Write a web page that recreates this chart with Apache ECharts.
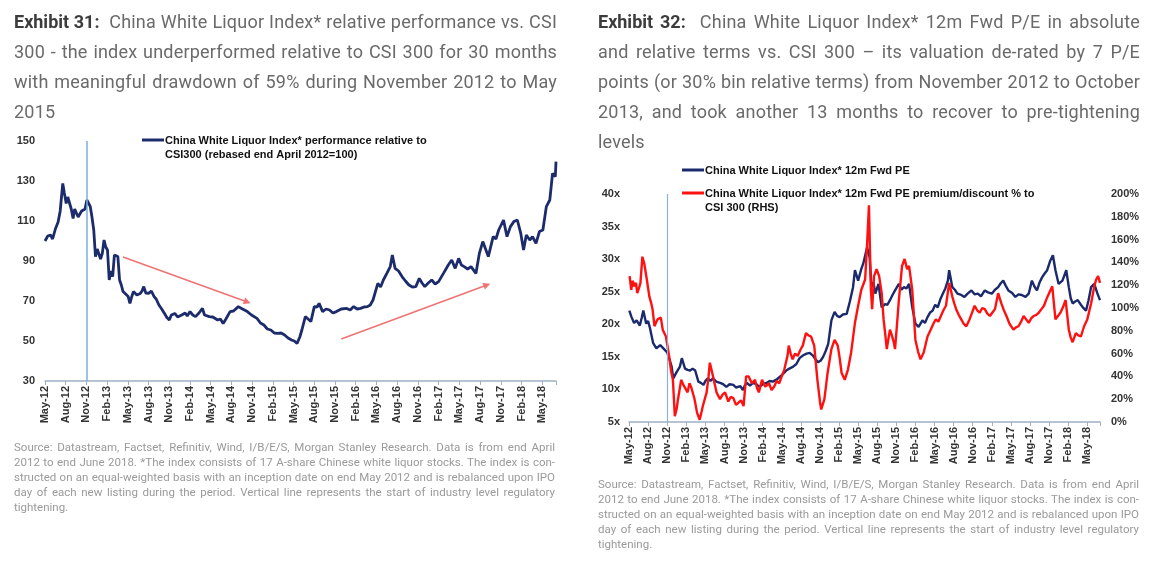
<html>
<head>
<meta charset="utf-8">
<script src="https://cdn.jsdelivr.net/npm/echarts@6/dist/echarts.min.js"></script>
<style>
    body { margin: 0; background: #fff; font-family: Roboto, "Liberation Sans", sans-serif; }
    #main { position: absolute; left: 0; top: 0; width: 1153px; height: 568px; }
    .title { position: absolute; top: 7px; font-size: 18px; line-height: 30px; color: #6a6a6a; letter-spacing: 0.2px; }
    .title b { color: #3c3c3c; letter-spacing: 0; }
    .note { position: absolute; font-size: 11.5px; line-height: 15px; color: #9a9a9a; }
    .title div, .note div { text-align: justify; text-align-last: justify; white-space: nowrap; }
    .title div.last, .note div.last { text-align-last: left; }
</style>
<title>Exhibit 31 / 32</title>
</head>
<body>
<div id="main"></div>

<div class="title" style="left:14px;width:543px;">
    <div><b>Exhibit 31:</b>&nbsp; China White Liquor Index* relative performance vs. CSI</div>
    <div>300 - the index underperformed relative to CSI 300 for 30 months</div>
    <div>with meaningful drawdown of 59% during November 2012 to May</div>
    <div class="last">2015</div>
</div>
<div class="title" style="left:598px;width:542px;">
    <div><b>Exhibit 32:</b>&nbsp; China White Liquor Index* 12m Fwd P/E in absolute</div>
    <div>and relative terms vs. CSI 300 – its valuation de-rated by 7 P/E</div>
    <div>points (or 30% bin relative terms) from November 2012 to October</div>
    <div>2013, and took another 13 months to recover to pre-tightening</div>
    <div class="last">levels</div>
</div>

<div class="note" style="left:14px;top:440px;width:541px;">
    <div>Source: Datastream, Factset, Refinitiv, Wind, I/B/E/S, Morgan Stanley Research. Data is from end April</div>
    <div>2012 to end June 2018. *The index consists of 17 A-share Chinese white liquor stocks. The index is con-</div>
    <div>structed on an equal-weighted basis with an inception date on end May 2012 and is rebalanced upon IPO</div>
    <div>day of each new listing during the period. Vertical line represents the start of industry level regulatory</div>
    <div class="last">tightening.</div>
</div>
<div class="note" style="left:598px;top:477px;width:541px;">
    <div>Source: Datastream, Factset, Refinitiv, Wind, I/B/E/S, Morgan Stanley Research. Data is from end April</div>
    <div>2012 to end June 2018. *The index consists of 17 A-share Chinese white liquor stocks. The index is con-</div>
    <div>structed on an equal-weighted basis with an inception date on end May 2012 and is rebalanced upon IPO</div>
    <div>day of each new listing during the period. Vertical line represents the start of industry level regulatory</div>
    <div class="last">tightening.</div>
</div>

<script>
// x positions are months since May-2012 (0 = May-12)
const monthNames = ['Jan', 'Feb', 'Mar', 'Apr', 'May', 'Jun', 'Jul', 'Aug', 'Sep', 'Oct', 'Nov', 'Dec'];
const tighteningMonth = 6; // Nov-12

// Exhibit 31: relative performance vs CSI300 (rebased = 100)
const relMonth = [0, 0.4, 0.8, 1.1, 1.5, 1.9, 2.2, 2.57, 2.8, 3.07, 3.3, 3.57, 3.8, 4.07, 4.3, 4.56, 4.8, 5.06, 5.3, 5.56, 5.8, 6.06, 6.3, 6.56, 6.8, 7.06, 7.31, 7.56, 7.81, 8.05, 8.3, 8.55, 8.8, 9.05, 9.3, 9.55, 9.8, 10.05, 10.3, 10.55, 10.8, 11.05, 11.3, 11.55, 12.05, 12.3, 12.55, 12.8, 13.3, 13.8, 14.05, 14.3, 14.6, 15.0, 15.4, 15.8, 16.1, 16.5, 16.9, 17.3, 17.6, 18.0, 18.3, 18.8, 19.2, 19.8, 20.3, 20.6, 21.0, 21.4, 21.8, 22.3, 22.8, 23.1, 23.8, 24.3, 25.0, 25.4, 25.8, 26.2, 26.8, 27.3, 28.0, 28.6, 29.3, 29.9, 30.7, 31.2, 31.7, 32.2, 32.7, 33.2, 33.7, 34.2, 34.7, 35.2, 35.7, 36.1, 36.5, 36.9, 37.2, 37.7, 38.1, 38.5, 39.0, 39.4, 39.7, 40.2, 40.7, 41.2, 41.7, 42.2, 42.9, 43.7, 44.2, 44.7, 45.2, 45.7, 46.2, 46.7, 47.1, 47.5, 48.2, 48.6, 49.0, 49.5, 50.0, 50.3, 50.7, 51.2, 51.7, 52.2, 52.7, 53.2, 53.7, 54.2, 54.6, 55.0, 55.5, 56.0, 56.5, 57.0, 57.7, 58.4, 58.9, 59.4, 59.9, 60.3, 60.7, 61.2, 61.7, 62.4, 62.9, 63.4, 63.8, 64.2, 64.9, 65.3, 65.7, 66.4, 66.9, 67.4, 67.9, 68.4, 68.9, 69.3, 69.7, 70.2, 70.6, 71.1, 71.6, 72.1, 72.6, 73.1, 73.5, 73.9, 74.0];
const relValue = [100, 102.5, 103, 101, 106, 109.5, 115, 128.8, 124, 118.8, 122, 121.3, 116, 111.3, 116, 115.5, 112, 113, 115, 114.7, 116, 120.5, 119, 117.2, 112, 105.5, 92.2, 96, 95.5, 91, 93.8, 100.5, 97, 95.5, 80.5, 85, 82.2, 93, 92, 92.2, 80.5, 78, 74.7, 75.5, 72.2, 68.8, 72, 74.7, 73, 73.8, 75, 77.2, 74, 73.8, 75, 72.2, 71, 68, 66, 63.8, 62, 60.5, 63, 63.8, 62, 63, 64, 62.5, 64.7, 63, 62.2, 64, 66.3, 63, 62.2, 62, 60.5, 61, 58.8, 61, 64.7, 65, 67.2, 66, 64.7, 63, 61.3, 59, 58, 56, 55.5, 54, 53.8, 54, 53, 51.5, 50.5, 50, 48.8, 52, 55.5, 62.2, 61, 59.7, 67.2, 67, 68.8, 64.7, 66, 65.5, 64, 64.7, 66, 66.3, 65.5, 67.2, 66, 66.3, 67, 67.2, 68, 70.5, 78.8, 77, 80.5, 83.8, 87.2, 93, 86.3, 85, 82.2, 80, 78, 77, 77.2, 81.3, 79, 77.2, 79, 80.5, 78.5, 79.7, 83.8, 88, 90.5, 86.3, 91.3, 88, 87.2, 86, 87.2, 83.8, 93.8, 99.7, 96, 92.2, 102.2, 101, 105.5, 110.5, 102.2, 107.2, 109.7, 110.5, 103.8, 95.5, 103, 100.5, 102.2, 98.8, 104.7, 105.5, 117.2, 120.5, 133.8, 132.2, 139.7];

// trend arrows on exhibit 31: [month, value] start -> end
const arrowFrom = [[11.3, 92], [42.9, 51]];
const arrowTo = [[29.3, 69.5], [64.0, 78]];

// Exhibit 32: 12m fwd PE (x)
const peMonth = [0.05, 0.4, 0.8, 1.2, 1.7, 2.0, 2.25, 2.7, 3.0, 3.3, 3.8, 4.3, 4.9, 5.4, 6.0, 6.4, 6.7, 6.95, 7.5, 8.0, 8.3, 8.8, 9.2, 9.6, 10.0, 10.4, 10.9, 11.3, 11.7, 12.0, 12.4, 12.8, 13.2, 13.7, 14.3, 14.8, 15.3, 15.8, 16.4, 16.8, 17.1, 17.5, 17.9, 18.2, 18.5, 19.0, 19.5, 20.0, 20.5, 21.0, 21.6, 22.1, 22.6, 23.3, 24.0, 24.7, 25.2, 25.8, 26.3, 26.8, 27.3, 27.9, 28.4, 28.9, 29.3, 29.7, 30.1, 30.5, 30.9, 31.3, 31.8, 32.3, 32.7, 33.1, 33.6, 34.2, 34.7, 35.2, 35.5, 36.0, 36.5, 36.8, 37.4, 37.8, 38.1, 38.4, 38.7, 39.2, 39.7, 40.2, 40.6, 41.0, 41.4, 41.8, 42.4, 42.8, 43.2, 43.6, 44.0, 44.5, 45.0, 45.5, 46.1, 46.5, 46.9, 47.3, 47.7, 48.1, 48.5, 48.9, 49.3, 49.7, 50.1, 50.3, 50.8, 51.2, 51.6, 52.2, 52.7, 53.2, 53.8, 54.3, 54.8, 55.3, 55.9, 56.4, 57.0, 57.5, 58.0, 58.4, 58.8, 59.2, 59.6, 60.2, 60.7, 61.2, 61.7, 62.3, 62.8, 63.3, 63.7, 64.1, 64.5, 64.9, 65.3, 65.7, 66.2, 66.6, 67.0, 67.5, 68.1, 68.7, 69.1, 69.4, 69.7, 70.1, 70.5, 71.0, 71.3, 71.8, 72.2, 72.6, 73.1, 73.6, 74.0];
const peValue = [22.1, 21.1, 20.2, 20.6, 19.8, 21, 22.1, 20.1, 20.5, 19.4, 17.1, 16.3, 16.8, 16.3, 15.7, 14.5, 13.5, 11.7, 12.7, 13.5, 14.8, 13.2, 13.0, 12.9, 13.2, 12.9, 11.2, 11.0, 10.7, 11.3, 11.7, 11.3, 11.7, 11.2, 11.0, 10.8, 10.4, 10.8, 10.7, 10.3, 10.2, 10.5, 9.9, 10.6, 11.0, 10.6, 11.0, 10.8, 10.4, 10.8, 11.0, 11.3, 11.2, 11.6, 12.2, 12.9, 13.2, 13.5, 13.9, 14.8, 15.2, 15.5, 15.6, 15.2, 14.6, 14.2, 14.4, 15.0, 15.9, 17.0, 20.6, 21.9, 21.3, 21.1, 21.5, 21.6, 23.5, 25.7, 28.3, 26.7, 28.5, 29.3, 31.8, 30.3, 25.7, 26.5, 24.7, 26.2, 22.6, 23.1, 23.0, 23.7, 24.5, 25.2, 26.2, 25.3, 25.7, 25.5, 26.2, 22.6, 20.1, 19.6, 20.6, 20.2, 21.1, 21.8, 22.1, 23.0, 22.6, 23.8, 24.7, 25.5, 26.7, 28.3, 25.7, 25.3, 24.7, 24.5, 24.2, 24.7, 25.2, 24.6, 24.7, 24.3, 25.2, 24.9, 24.7, 25.3, 25.7, 26.3, 26.7, 25.9, 25.2, 24.8, 24.2, 24.6, 24.5, 24.2, 24.7, 26.7, 25.8, 25.2, 26.4, 27.2, 27.8, 28.3, 29.8, 30.6, 28.3, 26.2, 26.7, 28.3, 25.7, 24.0, 23.2, 23.5, 23.7, 23.0, 22.6, 22.1, 23.7, 25.7, 26.2, 24.7, 23.7];

// Exhibit 32: PE premium/discount % to CSI 300 (RHS)
const premMonth = [0.1, 0.35, 0.6, 0.8, 1.1, 1.3, 1.6, 1.8, 2.1, 2.4, 2.8, 3.2, 3.5, 3.7, 4.0, 4.3, 4.5, 5.0, 5.3, 5.8, 6.3, 6.6, 6.9, 7.2, 7.5, 7.7, 8.2, 8.5, 8.7, 9.2, 9.5, 9.8, 10.3, 10.7, 11.1, 11.4, 11.6, 12.2, 12.5, 12.7, 13.0, 13.2, 13.75, 14.3, 14.7, 15.1, 15.6, 16.0, 16.4, 16.8, 17.2, 17.6, 18.0, 18.4, 18.8, 19.3, 19.8, 20.1, 20.4, 20.9, 21.4, 22.0, 22.4, 22.8, 23.2, 23.6, 24.0, 24.4, 24.9, 25.1, 25.4, 25.7, 26.1, 26.5, 27.0, 27.3, 27.8, 28.2, 28.6, 29.1, 29.6, 30.0, 30.2, 30.7, 31.2, 31.8, 32.3, 32.8, 33.1, 33.4, 33.9, 34.4, 34.9, 35.5, 36.0, 36.5, 37.1, 37.4, 37.7, 38.0, 38.2, 38.5, 38.9, 39.3, 39.7, 40.0, 40.3, 40.5, 41.0, 41.3, 41.6, 41.8, 42.1, 42.4, 42.9, 43.3, 43.7, 44.0, 44.5, 45.0, 45.4, 45.8, 46.3, 46.9, 47.4, 47.8, 48.2, 48.6, 49.0, 49.4, 49.8, 50.3, 50.8, 51.1, 51.4, 51.8, 52.2, 52.6, 53.0, 53.5, 53.9, 54.3, 54.7, 55.1, 55.5, 55.9, 56.3, 56.7, 57.1, 57.5, 58.0, 58.5, 58.9, 59.3, 59.8, 60.4, 60.8, 61.2, 61.6, 62.0, 62.4, 62.8, 63.2, 63.6, 64.0, 64.4, 64.8, 65.2, 65.6, 66.0, 66.5, 67.0, 67.4, 67.8, 68.2, 68.6, 69.1, 69.4, 69.7, 70.2, 70.6, 71.0, 71.5, 72.0, 72.3, 72.6, 73.1, 73.4, 73.7, 74.0];
const premValue = [128, 116, 124, 119, 122, 113, 118, 122, 145, 139, 125, 110, 104, 99, 84, 88, 90, 91.6, 81, 75, 58, 45, 37, 5, 12, 20, 37, 33, 31, 26, 34, 30, 20, 8, 2, 9, 14, 26, 40, 52, 45, 40, 26, 20, 24, 26, 18, 22, 21, 15, 17, 19, 14, 40, 40, 34, 37, 30, 26, 37, 31, 34, 28, 31, 36, 34, 40, 46, 58, 67, 60, 55, 60, 58, 64, 67, 78, 76, 75, 67, 37, 18, 11, 20, 43, 64, 72, 67, 56, 43, 37, 46, 61, 87, 102, 116, 125, 155, 190, 116, 99, 128, 134, 128, 113, 90, 75, 64, 81, 76, 70, 64, 85, 107, 137, 143, 134, 137, 116, 72, 62, 55, 61, 75, 81, 86, 90, 88, 93, 98, 102, 122, 110, 104, 99, 94, 90, 86, 84, 90, 96, 102, 98, 96, 100, 99, 95, 93, 96, 99, 113, 104, 98, 93, 86, 81, 83, 84, 88, 93, 90, 87, 91, 93, 94, 96, 99, 102, 108, 113, 119, 90, 93, 96, 101, 107, 81, 74, 70, 78, 76, 75, 84, 90, 97, 104, 119, 125, 128, 122];

const pairs = (xs, ys) => xs.map((x, i) => [x, ys[i]]);

const monthLabel = (v) => {
    if (v % 3 !== 0) return '';
    const k = 4 + v;
    return monthNames[k % 12] + '-' + (12 + Math.floor(k / 12));
};

const axisFont = { fontFamily: 'Liberation Sans', fontWeight: 'bold', fontSize: 11, color: '#333' };
const axisLineColor = '#9fb0c4';

const xAxisBase = (gridIndex) => ({
    type: 'value', gridIndex: gridIndex, min: 0, max: 74, interval: 3,
    splitLine: { show: false },
    axisLine: { lineStyle: { color: axisLineColor, width: 1.5 } },
    axisTick: { show: true, length: 4, lineStyle: { color: axisLineColor } },
    axisLabel: Object.assign({ rotate: 90, margin: 5, formatter: monthLabel }, axisFont)
});

const myChart = echarts.init(document.getElementById('main'));

const option = {
    animation: false,
    backgroundColor: '#ffffff',
    grid: [
        { left: 45, right: 597, top: 141, bottom: 187 },
        { left: 629, right: 53, top: 194, bottom: 146 }
    ],
    xAxis: [xAxisBase(0), xAxisBase(1)],
    yAxis: [
        {
            type: 'value', gridIndex: 0, min: 30, max: 150, interval: 20,
            splitLine: { show: false }, axisLine: { show: false }, axisTick: { show: false },
            axisLabel: Object.assign({ margin: 10 }, axisFont)
        },
        {
            type: 'value', gridIndex: 1, min: 5, max: 40, interval: 5,
            splitLine: { show: false }, axisLine: { show: false }, axisTick: { show: false },
            axisLabel: Object.assign({ margin: 9, formatter: '{value}x' }, axisFont)
        },
        {
            type: 'value', gridIndex: 1, position: 'right', min: 0, max: 200, interval: 20,
            splitLine: { show: false }, axisLine: { show: false }, axisTick: { show: false },
            axisLabel: Object.assign({ margin: 11, formatter: '{value}%' }, axisFont)
        }
    ],
    series: [
        {
            name: 'relative',
            type: 'line', xAxisIndex: 0, yAxisIndex: 0,
            data: pairs(relMonth, relValue),
            showSymbol: false,
            lineStyle: { color: '#1c2b6b', width: 2.8 },
            markLine: {
                silent: true, symbol: 'none', label: { show: false },
                lineStyle: { color: '#7aaee0', width: 1.5, type: 'solid' },
                data: [{ xAxis: tighteningMonth }]
            }
        },
        {
            name: 'arrows',
            type: 'lines', coordinateSystem: 'cartesian2d', xAxisIndex: 0, yAxisIndex: 0,
            symbol: ['none', 'triangle'], symbolSize: 7,
            lineStyle: { color: '#f07272', width: 1.5, opacity: 1 },
            data: arrowFrom.map((p, i) => ({ coords: [p, arrowTo[i]] }))
        },
        {
            name: 'pe',
            type: 'line', xAxisIndex: 1, yAxisIndex: 1,
            data: pairs(peMonth, peValue),
            showSymbol: false,
            lineStyle: { color: '#1a2a6c', width: 2.4 },
            markLine: {
                silent: true, symbol: 'none', label: { show: false },
                lineStyle: { color: '#8fb0d6', width: 1.2, type: 'solid' },
                data: [{ xAxis: tighteningMonth }]
            }
        },
        {
            name: 'premium',
            type: 'line', xAxisIndex: 1, yAxisIndex: 2,
            data: pairs(premMonth, premValue),
            showSymbol: false,
            lineStyle: { color: '#ff1111', width: 2.4 }
        }
    ],
    // legends drawn by hand to keep the multi-line labels like the source
    graphic: [
        { type: 'line', shape: { x1: 142, y1: 140, x2: 164, y2: 140 }, style: { stroke: '#1c2b6b', lineWidth: 3 } },
        {
            type: 'text', left: 165, top: 134,
            style: {
                text: 'China White Liquor Index* performance relative to\nCSI300 (rebased end April 2012=100)',
                font: 'bold 11px "Liberation Sans"', fill: '#111', lineHeight: 14
            }
        },
        { type: 'line', shape: { x1: 682, y1: 170, x2: 704, y2: 170 }, style: { stroke: '#1a2a6c', lineWidth: 3 } },
        {
            type: 'text', left: 705, top: 164,
            style: { text: 'China White Liquor Index* 12m Fwd PE', font: 'bold 11px "Liberation Sans"', fill: '#111', lineHeight: 14 }
        },
        { type: 'line', shape: { x1: 682, y1: 193, x2: 704, y2: 193 }, style: { stroke: '#ff1111', lineWidth: 3 } },
        {
            type: 'text', left: 705, top: 187,
            style: {
                text: 'China White Liquor Index* 12m Fwd PE premium/discount % to\nCSI 300 (RHS)',
                font: 'bold 11px "Liberation Sans"', fill: '#111', lineHeight: 14
            }
        }
    ]
};

myChart.setOption(option);
</script>
</body>
</html>
